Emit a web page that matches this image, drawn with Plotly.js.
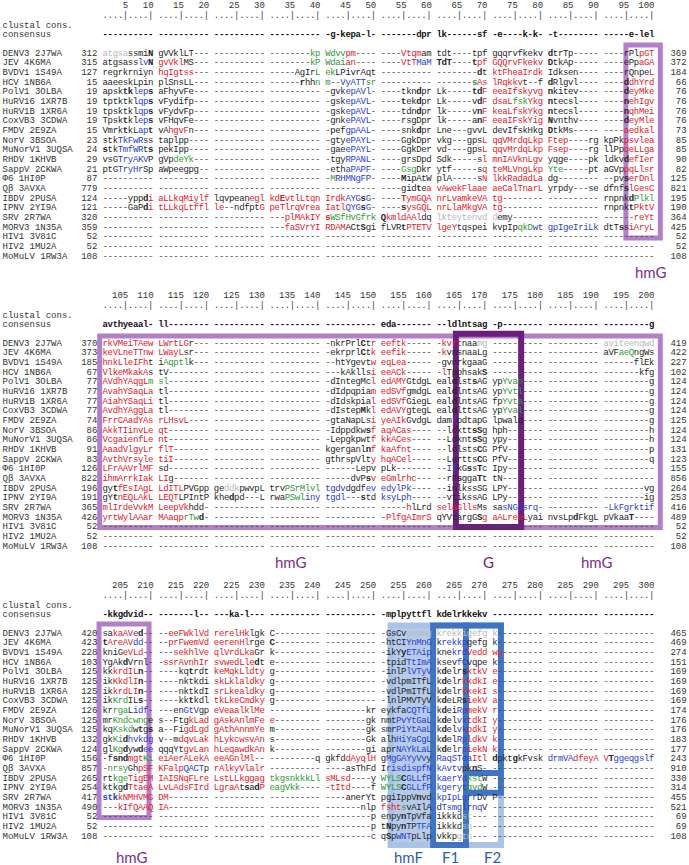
<!DOCTYPE html>
<html><head><meta charset="utf-8">
<script src="https://cdn.plot.ly/plotly-3.0.1.min.js"></script>
<style>html,body{margin:0;padding:0;background:#fff}#chart{width:689px;height:865px}</style>
</head><body><div id="chart"></div>
<script>
// ---------------- DATA ----------------
const names = ["DENV3 2J7WA","JEV 4K6MA","BVDV1 1S49A","HCV 1NB6A","PolV1 3OLBA","HuRV16 1XR7B","HuRV1B 1XR6A","CoxVB3 3CDWA","FMDV 2E9ZA","NorV 3BSOA","MuNorV1 3UQSA","RHDV 1KHVB","SappV 2CKWA","\u03A66 1HI0P","Q\u03B2 3AVXA","IBDV 2PUSA","IPNV 2YI9A","SRV 2R7WA","MORV3 1N35A","HIV1 3V81C","HIV2 1MU2A","MoMuLV 1RW3A"];

const start1 = [312,315,127,15,19,19,19,19,15,23,24,29,21,87,779,124,121,320,359,52,52,108];
const end1   = [369,372,184,66,76,76,76,76,73,85,85,90,82,125,821,195,190,364,425,52,52,108];
const start2 = [370,373,185,67,77,77,77,77,74,86,86,91,83,126,822,196,191,365,426,52,52,108];
const end2   = [419,422,227,102,124,124,124,124,125,124,124,131,123,155,856,264,253,416,489,52,52,108];
const start3 = [420,423,228,103,125,125,125,125,126,125,125,132,124,156,857,265,254,417,490,52,52,108];
const end3   = [465,469,274,151,169,169,169,169,174,176,176,183,177,243,910,330,314,455,521,69,69,108];

const ruler1 = [5,10,15,20,25,30,35,40,45,50,55,60,65,70,75,80,85,90,95,100];
const ruler2 = [105,110,115,120,125,130,135,140,145,150,155,160,165,170,175,180,185,190,195,200];
const ruler3 = [205,210,215,220,225,230,235,240,245,250,255,260,265,270,275,280,285,290,295,300];

const cons1 = "---------- ---------- ---------- ---------- -g-kepa-l- -------dpr lk------sf -e----k-k- -t-------- -----e-lel";
const cons2 = "avthyeaal- ll-------- ---------- ---------- ---------- eda------- --ldlntsag -p-------- ---------- ---------g";
const cons3 = "-kkgdvid-- -------l-- ---ka-l--- ---------- ---------- -mplpyttfl kdelrkkekv ---------- ---------- ----------";

// markup: [x ... ] colour group (r red, b blue, g green, l light grey), *c bold character
const rows1 = [
"[latgsa]ssmi*N gVVklLT--- ---------- --------[gkp] [gWdvv][rpm]---- ----[rVtqm]am tdt----tpf gqqrvfkekv *dtrTp----- ----rPl[rpGT]",
"atgsass[blv]*N [rgvVkl]MS--- ---------- --------[gkP] [gWdai][ran]---- ----[rVtT][bMaM] *T*d*T----*t[rpf] [rGQQrvFkekv] *DtkAp----- ----ePp[raGA]",
"regrkrniyn [rhqIgtss]--- ---------- -----AgIr[gL] [gek]LPivrAqt ---------- --------*dt [rktFheaIrdk] Idksen---- ----rQnpe[rL]",
"aaeeskLpin plSnsLL--- ---------- ------*rhh[gn] [gm]--[bVyATT][gsr] ---------- -------[g*s][rAs] [rlRqkkv]t--f *dRlgvl---- ----*d[rdhYrd]",
"apsk*t*k[blep]*s aFhyvFe--- ---------- ---------- -gvk[bepAVl]- ----tkn*dpr Lk-----*t*d[rF] [reeaIfskyvg] *nkitev---- ----*d[reyMke]",
"tptktkl[bqp]*s vFydifp--- ---------- ---------- -gsk[bepAVL]- ----*tek*dpr Lk-----v*d[rF] [rdsaL][gfsk][rYkg] *ntecsl---- ----*n[rehIgv]",
"tpsktkl[bqp]*s vFydvFp--- ---------- ---------- -gsk[bepAVL]- ----tdn*dpr lk-----v*n[rF] [rkeaLfskYkg] *ntecsl---- ----*n[rqhMei]",
"Tpsk*tkl[bep]*s vFHqvFe--- ---------- ---------- -gnk[bePAVL]- ----rsgDpr lk-----a*n[rF] [reeaIFskYig] *Nvnthv---- ----*d[reyMle]",
"Vmrk*tkL[bap]*t vA[rhgvF]n--- ---------- ---------- -pef[bgpAAL]- ----snk*dpr Lne---gvvL devIfskHkg *DtkMs----- ----[raedkal]",
"stk[bTkFwR]ss taplpp---- ---------- ---------- -gty[bePAYL]- ----GgkDpr vkg---gps[rL] [rqqVMrdqLkp] [rFtep]----rg kpPk[rpsvlea]",
"*stk[bTmfWR]t*s pekIpp---- ---------- ---------- -gae[bePAYL]- ----GgkDer vd----gps[rL] [rqqvMrdqLkp] [rFsep]----rg llPp[rqeLLga]",
"vsG[bTryAKV]P gVp[gdeYk]--- ---------- ---------- -tgy[bRPANL]- ----grsDpd Sdk-----s[rl] [rmnIAVknLgv] yqge----pk ldkv*d[refIer]",
"ptG[bTryHr]Sp aWpeegpg-- ---------- ---------- -eth[baPAPF]- ----[gGsg]Dkr ytf-----s[rq] [rteMLVngLkp] [gYte]-----pt aGVp[rpqLlsr]",
"---------- ---------- ---------- ---------- -[gM][bRHMNgFP]- ----*MipAtW plA-----s[rN] [rlkkRadadLa] dg-------- --pv*s[rerDnl]",
"---------- ---------- ---------- ---------- ---------- ----gid*te[ra] [rvAwekFlaae] [raeCalTnarL] yrpdy---se dfnf*s[rlGesC]",
"-----ypp*d[ri] [raLLkqMiylf] lqvpean[regl] [rkd*EvtlLtqn] [rIrdk][bAYG]*s[bG]- ----[r*TymGQA] [rnrLvamkeVA] [rtg]-------- ---------- rnpnk*d[gPlkl]",
"-----GaP*d[ri] [rtLLkqLtffl] [rle]--ndfpt[rG] [rpeTlrqVrea] [rIatl][bQYG]*s[bG]- ----*s[rysGQL] [rnrLlaMkgVA] [rtg]-------- ---------- rnpnk*t[rPktV]",
"---------- ---------- ---------- ---[rplMAkIY] [r*s][gWSfHvGfrk] *Q[rkmldAAl]dq [llkteytenvd] [ld]emy------ ---------- ------[rreYt]",
"---------- ---------- ---------- ---[rfaSVrYI] [rRDAM]ACt*Sgi fLVR*t[rPTETV] [rlgeY]tqspei kvpIp[gqkD][bwt] [bgpIgeIriLk] dtT*ss[riAryL]",
"---------- ---------- ---------- ---------- ---------- ---------- ---------- ---------- ---------- ----------",
"---------- ---------- ---------- ---------- ---------- ---------- ---------- ---------- ---------- ----------",
"---------- ---------- ---------- ---------- ---------- ---------- ---------- ---------- ---------- ----------"
];

const rows2 = [
"[rrkVMeiTAew] [rLWrtLG]r--- ---------- ---------- -nkrPrl*Ct[rr] [reeftk]----- -[rkvrt]naa[lmg] ---------- ---------- [laviteenqwd]",
"[rkeVLneTTnw] [rLWayL]sr--- ---------- ---------- -ekrprl*Ct[rk] [reefik]----- -[rk]vnsnaaLg ---------- ---------- aVF[gaeQ]ngWs",
"[rhnkLleIFh]t i[gAqptl]k--- ---------- ---------- --htYgevt[rw] [reqLea]----- -gvnrkgaaG ---------- ---------- ------flEk",
"[rVlkeMkakA]s tV-------- ---------- ---------- ---kAklls[ri] [reeACk]----- -[rl]Tpphsak*S ---------- ---------- -------kfg",
"[rAVdhYAqgL][gm] [gsl]-------- ---------- ---------- -dIntegMc[rl] [redAMY]GtdgL eal*dlst*sAG yp[gYvan]---- ---------- ---------g",
"[rAvahYSaqLa] tl-------- ---------- ---------- -dIdpqpia[rm] [redSVf]gmdgL eal*dlntsAG yp[gYvtl]---- ---------- ---------g",
"[rAiahYSaqLi] tl-------- ---------- ---------- -dIdskpia[rl] [redSVf]GiegL eal*dlntsAG fp[gYvta]---- ---------- ---------g",
"[rAvdhYAggLa] tl-------- ---------- ---------- -dIstep*Mk[rl] [redAVY]gtegL eal*dlttsAG yp[gYval]---- ---------- ---------g",
"[rFrrCAadYAs] [rrLHsvL]---- ---------- ---------- -gtaNapLs[ri] [ryeAIk]GvdgL dam[br]pdtapG lpwalq---- ---------- ---------g",
"[rAkkTIinvLe] [rqt]-------- ---------- ---------- -Idppdkw*s[rf] [raqACas]---- --ldktt*s*Sg hph------- ---------- ---------h",
"[rVcgaienfLe] [rnt]-------- ---------- ---------- -Lepgkpwt[rf] [rkkACes]---- --Ldknt*s*Sg ypy------- ---------- ---------h",
"[rAaadVlgyLr] [rflT]------- ---------- ---------- kgerganl*n[rf] [rkaAfnt]---- --ldlsts*CG PfV------- ---------- ---------p",
"[rAvthVrsyle] [rtiI]------- ---------- ---------- gthrspVlt[ry] [rhqACel]---- --Lertts*CG PfV------- ---------- ---------q",
"[rLFrAAVrlMF] sd-------- ---------- ---------- ------Lepv pLk------- --[bII]kG*ss*Tc Ipy------- ---------- ----------",
"[rihmArrkIak] [rLI]g------- ---------- ---------- -----dvP*s[rv] [reGmlrhc]--- --rF*sgga*Tt tN-------- ---------- ----------",
"gy*t[rfEsIAgL] [rLdITL]PVGpp ge[lddk]pwvpL trv[gPSrMlvl] [btgdv]dgdf[bev] [bedylPk]---- --inlkssSG LPY------- ---------- --------vg",
"gY*t[rnEQLAkL] [rLEQT]LPIntP khe*dpd---L rwa[gPSwl][biny] [btgdl]---*std [bksyLph]---- --vtikssAG LPy------- ---------- --------ig",
"[rmlIrdeVvkM] [rLeepVk]hdd- ---------- ---------- ---------- -----[rh]lLrd [rselaGlls]Ms sa[bsNGesrq]- ---------- -[bLkFgrktif]",
"[ryrtWylAAar] [rMAaqp][grTw]*d- ---------- ---------- ---------- -[rPlfgAImrS] qYVtargG*S[rg] [raALreeL]yai nvsLp*dFkgL pVkaa*T----",
"---------- ---------- ---------- ---------- ---------- ---------- ---------- ---------- ---------- ----------",
"---------- ---------- ---------- ---------- ---------- ---------- ---------- ---------- ---------- ----------",
"---------- ---------- ---------- ---------- ---------- ---------- ---------- ---------- ---------- ----------"
];

const rows3 = [
"sa[rkaAV][be]*d-- --[reeFWklVd] [rrerelHk]lgk C--------- ---------- -GsCv[lynmmg] [lkrekkigefg] [lk]--------- ---------- ----------",
"*t[rAreAV][bdd]-- --[rprFwemVd] [reerenHl]rge *C--------- ---------- -htCI[bYnMnG] k[brekkp]gefg k--------- ---------- ----------",
"kniG[reVLd]-- ---[rsekhlVe] [rqlVrdLka]Gr k--------- ---------- -ikY*y[bETAip] kne[bkrd][rVedd] [rwg]-------- ---------- ----------",
"YgAk*dVrnl- -[rssrAvnhIr] [rsvwedLle]*dt e--------- ---------- -tpid[bTtImA] ksev[bfC]vqpe k--------- ---------- ----------",
"kk[rkrdIL]*n-- ----kq*trdt [rkeMqkLldty] g--------- ---------- -inlP[blVTyV] k*delr*s[rktkV] [re]--------- ---------- ----------",
"ik[rKkdlI]*n-- ----nktkdi [rskLklaldky] g--------- ---------- -vdlpmITfL k*delr[rkkdkI] [re]--------- ---------- ----------",
"ik[rkrdLI]*n-- ----nktkdI [rsrLkealdky] g--------- ---------- -vdlPmITfL k*delr[rkkekI] [rs]--------- ---------- ----------",
"ik[gKrd]IL*s-- ----kk*tkdl [rtkLkeCmdky] g--------- ---------- -lnlPMVTyV k*deLR*s[riekV] [ra]--------- ---------- ----------",
"kr[grga]L[bidf]- ---en[bGtV]gp [reVeaalklMe] ---------- --------kr eykfa[bCQTfL] k*dei[bRp][rmekV] [rr]--------- ---------- ----------",
"mr[gKndcwng]e s--Ftg[rkLad] [rgAskAnlmFe] [re]--------- --------gk nmt[bPvYtGaL] k*del[bvk][rtdkI] [ry]--------- ---------- ----------",
"kq[gKskd]w*tg*s a--Fi[rgdLgd] [rgAthAnnmYe] m--------- --------gk smr[bPiYtAaL] k*del[bvk][rpdkI] [ry]--------- ---------- ----------",
"gk[gKi]*d[bhvkdg] v--m[rdqvLak] [rhLykcwsvAn] s--------- --------Gk alh[bHiYaCgL] k*del[bRp][rldkV] [rk]--------- ---------- ----------",
"gl[gKg]*dyw*d[bee] qqqYt[rgvLan] [rhLeqawdkAn] k--------- --------gi apr[bNAYkLaL] k*del[brp][riekN] [rk]--------- ---------- ----------",
"-f*s*n*d[rmgt][gKi] [reiAerALekA] [reeAGnlMl]-- ---------q gkfd[rdAyqlH] g[bMgGAYyVv]y [bRaqSTda][rItl] *dpkt*gkFvsk [bdrmVA][rdfeyA] [rV]*T[bggeqgslf]",
"-[gnrsy]Gh[rpSF] [rKFalp][bQACT]p [rrAlkyVlalr] ---------- ----asThFd I[brisdispfN] [bkAvtv]pk*nS- ---------- ---------- ----------",
"rt[gkge][rTigEM] [rIAISNqFLre] [rLstLLkggag] [gtkgsnkkkLl] [rsMLsd]----y [gWYLS]*C[bGLLfP] [bkaerYd][gkst]W ---------- ---------- ----------",
"ktkg*d[rTtaeA] [rLvLAdsFIrd] [rLgraA]t*sa*d[rP] [geagVkk]---- -[rtItd]----f [gWYLS]*C[bGLLfP] [bkgeryt][ggvd]W ---------- ---------- ----------",
"[b*s*t*k][rkNMHVMG] [rDM]-------- ---------- ---------- ----anerYt pgiIppV*nvd [bkpIpLgrr]Dv P--------- ---------- ----------",
"---[rkIfQAAQ] [rIA]-------- ---------- ---------- -------nlp [rfsht][gs]vAIlA d[bTsmglrnq]V ---------- ---------- ----------",
"---------- ---------- ---------- ---------- ---------p enpy*nTpVfa ikkkd[lst]--- ---------- ---------- ----------",
"---------- ---------- ---------- ---------- ---------p t*Npy*nTP[bTFA] ikkkd[lsn]--- ---------- ---------- ----------",
"---------- ---------- ---------- ---------- ---------[bc] q*Sp[bWNT]pLlp vkkp[lgtn]--- ---------- ---------- ----------"
];

// ---------------- STYLE / GEOMETRY ----------------
const W = 689, H = 865;
const X0 = 102.7, CW = 5.06;           // px of slot 0, px per character slot
const BASE = [53.3, 343.3, 633.3];      // px of first sequence row per panel
const RH = [9.67, 9.67, 9.67];          // px per row
const COL = {k:'#262626', r:'#e3202b', b:'#2b3cd0', g:'#2e9b35', l:'#b9b9b9'};
const DASH = '#4a4a4a';
const MONO = 'Liberation Mono, DejaVu Sans Mono, monospace';
const FS = 9;
const HDR = {num:-4.89, dots:-3.86, clustal:-2.82, cons:-1.96};

function parse(s){
  const out=[]; let slot=0, col='k', bold=false;
  for(let i=0;i<s.length;i++){
    const c=s[i];
    if(c==='['){col=s[++i];continue;}
    if(c===']'){col='k';continue;}
    if(c==='*'){bold=true;continue;}
    if(c===' '){slot++;continue;}
    out.push({slot, ch:c, color:(c==='-'&&col==='k')?DASH:COL[col], bold});
    slot++; bold=false;
  }
  return out;
}
function slotOf(col){ return (col-1) + Math.floor((col-1)/10); } // col 1..100 in panel

const traces=[]; const bad=[];
const panels=[
  {rows:rows1, cons:cons1, ruler:ruler1, st:start1, en:end1},
  {rows:rows2, cons:cons2, ruler:ruler2, st:start2, en:end2},
  {rows:rows3, cons:cons3, ruler:ruler3, st:start3, en:end3}
];
panels.forEach((P,p)=>{
  const ya = p===0?'y':'y'+(p+1);
  const x=[],y=[],t=[],c=[];
  P.rows.forEach((s,r)=>{
    const cells=parse(s);
    if(cells.length!==100) bad.push('p'+(p+1)+' r'+r+':'+cells.length);
    cells.forEach(o=>{x.push(o.slot+0.5); y.push(r); t.push(o.bold?'<b>'+o.ch+'</b>':o.ch); c.push(o.color);});
  });
  parse(P.cons).forEach(o=>{x.push(o.slot+0.5); y.push(HDR.cons); t.push('<b>'+o.ch+'</b>'); c.push('#111');});
  for(let col=1;col<=100;col++){
    x.push(slotOf(col)+0.5); y.push(HDR.dots); t.push(col%5===0?'|':'.'); c.push('#444');
  }
  traces.push({type:'scatter',mode:'text',x,y,text:t,yaxis:ya,xaxis:'x',
    textposition:'middle center',textfont:{family:MONO,size:FS,color:c},hoverinfo:'skip',cliponaxis:false});
  traces.push({type:'scatter',mode:'text',yaxis:ya,xaxis:'x',
    x:P.ruler.map(v=>slotOf(v-100*p)+1.05), y:P.ruler.map(()=>HDR.num), text:P.ruler.map(String),
    textposition:'middle left',textfont:{family:MONO,size:FS,color:'#333'},hoverinfo:'skip',cliponaxis:false});
  traces.push({type:'scatter',mode:'text',yaxis:ya,xaxis:'x',
    x:names.map(()=>-19.8).concat([-19.8,-19.8]), y:names.map((n,i)=>i).concat([HDR.clustal,HDR.cons]),
    text:names.concat(['clustal cons.','consensus']),
    textposition:'middle right',textfont:{family:MONO,size:FS,color:'#333'},hoverinfo:'skip',cliponaxis:false});
  traces.push({type:'scatter',mode:'text',yaxis:ya,xaxis:'x',
    x:P.st.map(()=>-1.05).concat(P.en.map(()=>115.4)), y:P.st.map((v,i)=>i).concat(P.en.map((v,i)=>i)),
    text:P.st.map(String).concat(P.en.map(String)),
    textposition:'middle left',textfont:{family:MONO,size:FS,color:'#333'},hoverinfo:'skip',cliponaxis:false});
});

const LP='#b47fc9', DP='#6b1f7c', LB='#a9c3e6', DB='#3f74c3';
function rect(ya,x0,x1,y0,y1,color,w,fill){
  return {type:'rect',xref:'x',yref:ya,x0,x1,y0,y1,layer:'below',
    line:{color:fill?'rgba(0,0,0,0)':color,width:fill?0:w},fillcolor:fill||'rgba(0,0,0,0)'};
}
const shapes=[
  rect('y',103.4,110.2,-0.86,19.1,LP,5),
  rect('y2',-0.6,110.2,-0.75,19.05,LP,5),
  rect('y2',69.8,82.7,-1.0,19.0,DP,6),
  rect('y3',-0.73,9.15,-0.96,19.05,LP,5),
  rect('y3',56.6,65.3,-0.8,21.9,null,0,'#b5cbe9'),
  rect('y3',56.9,78.7,-0.8,21.9,LB,6),
  rect('y3',65.3,71.8,-0.8,21.9,DB,6),
  rect('y3',71.8,78.7,-0.8,16.5,DB,6),
  {type:'line',xref:'x',yref:'y3',x0:71.8,x1:78.7,y0:14.45,y1:14.45,layer:'below',line:{color:DB,width:6}}
];
const LBL = {family:'Lato, Open Sans, sans-serif', size:15};
function lab(ya,x,y,text,color){return {xref:'x',yref:ya,x,y,text,showarrow:false,font:Object.assign({},LBL,{color}),xanchor:'center',yanchor:'middle'};}
const annotations=[
  lab('y',108.4,22.6,'hmG','#7b2d8e'),
  lab('y2',37.2,22.6,'hmG','#7b2d8e'),
  lab('y2',76.3,22.6,'G','#6b1f7c'),
  lab('y2',97.7,22.6,'hmG','#7b2d8e'),
  lab('y3',5.8,23.1,'hmG','#7b2d8e'),
  lab('y3',60.5,23.1,'hmF','#2f5ea8'),
  lab('y3',68.8,23.1,'F1','#2f5ea8'),
  lab('y3',77.1,23.1,'F2','#2f5ea8')
];
if(bad.length) annotations.push({xref:'paper',yref:'paper',x:0,y:0,xanchor:'left',yanchor:'bottom',text:'BAD '+bad.join(' '),showarrow:false,font:{color:'red',size:10}});

function yax(p){
  const a={range:[(H-BASE[p])/RH[p], -BASE[p]/RH[p]],domain:[0,1],visible:false,fixedrange:true};
  if(p>0) a.overlaying='y';
  return a;
}
const layout={
  width:W,height:H,margin:{l:0,r:0,t:0,b:0},paper_bgcolor:'#fff',plot_bgcolor:'#fff',showlegend:false,
  xaxis:{range:[-X0/CW,(W-X0)/CW],domain:[0,1],visible:false,fixedrange:true},
  yaxis:yax(0), yaxis2:yax(1), yaxis3:yax(2),
  shapes, annotations
};
Plotly.newPlot('chart',traces,layout,{staticPlot:true,displayModeBar:false});
</script>
</body></html>
